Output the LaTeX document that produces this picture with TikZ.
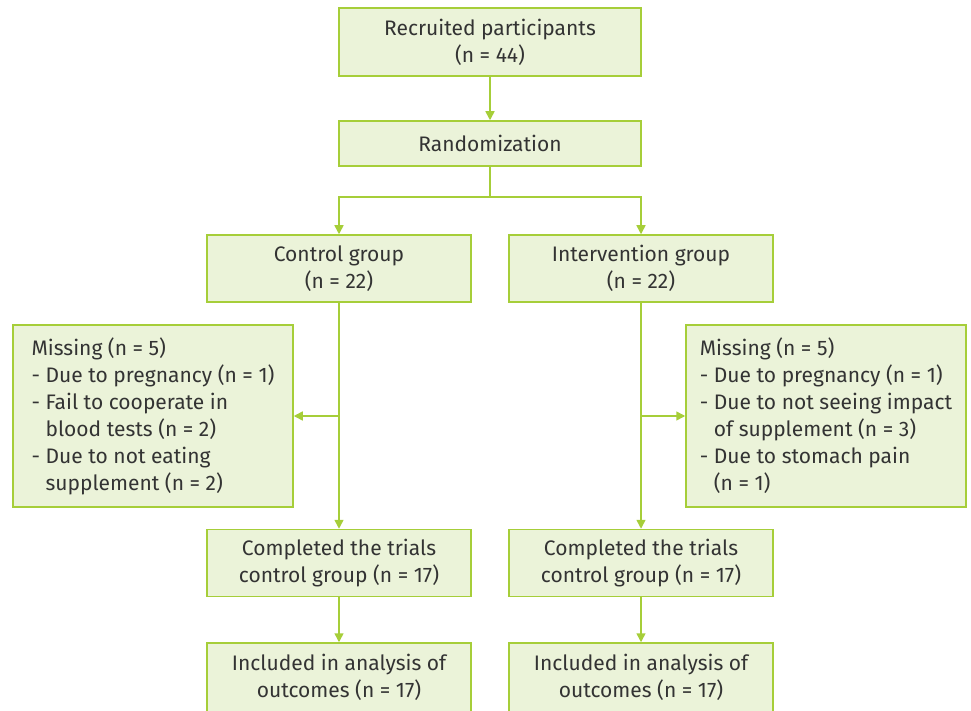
\documentclass[tikz,border=0pt]{standalone}
\usepackage{fontspec}
\setmainfont{Fira Sans}
\usetikzlibrary{arrows.meta}

\definecolor{linegreen}{RGB}{166,206,57}
\definecolor{boxfill}{RGB}{235,243,217}
\definecolor{txtgrey}{RGB}{51,51,51}

\tikzset{
  box/.style={draw=linegreen, fill=boxfill, line width=1.5pt, text=txtgrey,
    align=center, minimum width=264, minimum height=67, inner sep=0pt,
    font=\fontsize{21}{27}\selectfont},
  missbox/.style={box, align=left, minimum width=280, minimum height=182},
  flow/.style={draw=linegreen, line width=1.5pt, -{Triangle[width=9pt,length=9pt]}},
  plain/.style={draw=linegreen, line width=1.5pt}
}

\begin{document}
\begin{tikzpicture}[x=1pt,y=-1pt]

\useasboundingbox (0,0) rectangle (971,711);

% top of the chart
\node[box, minimum width=302, minimum height=68] (rec) at (490,42) {Recruited participants\\(n = 44)};
\node[box, minimum width=302, minimum height=45] (rand) at (490,143.5) {Randomization};
\coordinate (split) at (490,197);

% the two arms
\node[box] (ctrl) at (339,268.5) {Control group\\(n = 22)};
\node[box] (intv) at (641,268.5) {Intervention group\\(n = 22)};

\node[missbox] (missC) at (153,416) {Missing (n = 5)\\
- Due to pregnancy (n = 1)\\
- Fail to cooperate in\\
\phantom{- }blood tests (n = 2)\\
- Due to not eating\\
\phantom{- }supplement (n = 2)};
\node[missbox] (missI) at (826,416) {Missing (n = 5)\\
- Due to pregnancy (n = 1)\\
- Due to not seeing impact\\
\phantom{- }of supplement (n = 3)\\
- Due to stomach pain\\
\phantom{- }(n = 1)};

\node[box] (compC) at (339,563) {Completed the trials\\control group (n = 17)};
\node[box] (compI) at (641,563) {Completed the trials\\control group (n = 17)};

% bottom row runs off the lower edge
\node[box, minimum height=69] (inclC) at (339,677.5) {Included in analysis of\\outcomes (n = 17)};
\node[box, minimum height=69] (inclI) at (641,677.5) {Included in analysis of\\outcomes (n = 17)};

\coordinate (brC) at (ctrl.south |- missC.east);
\coordinate (brI) at (intv.south |- missI.west);

% connectors
\draw[flow] (rec) -- (rand);
\draw[plain] (rand) -- (split);
\draw[flow] (split) -| (ctrl);
\draw[flow] (split) -| (intv);

\draw[flow] (ctrl) -- (compC);
\draw[flow] (intv) -- (compI);
\draw[flow] (brC) -- (missC.east);
\draw[flow] (brI) -- (missI.west);

\draw[flow] (compC) -- (inclC);
\draw[flow] (compI) -- (inclI);

\end{tikzpicture}
\end{document}
